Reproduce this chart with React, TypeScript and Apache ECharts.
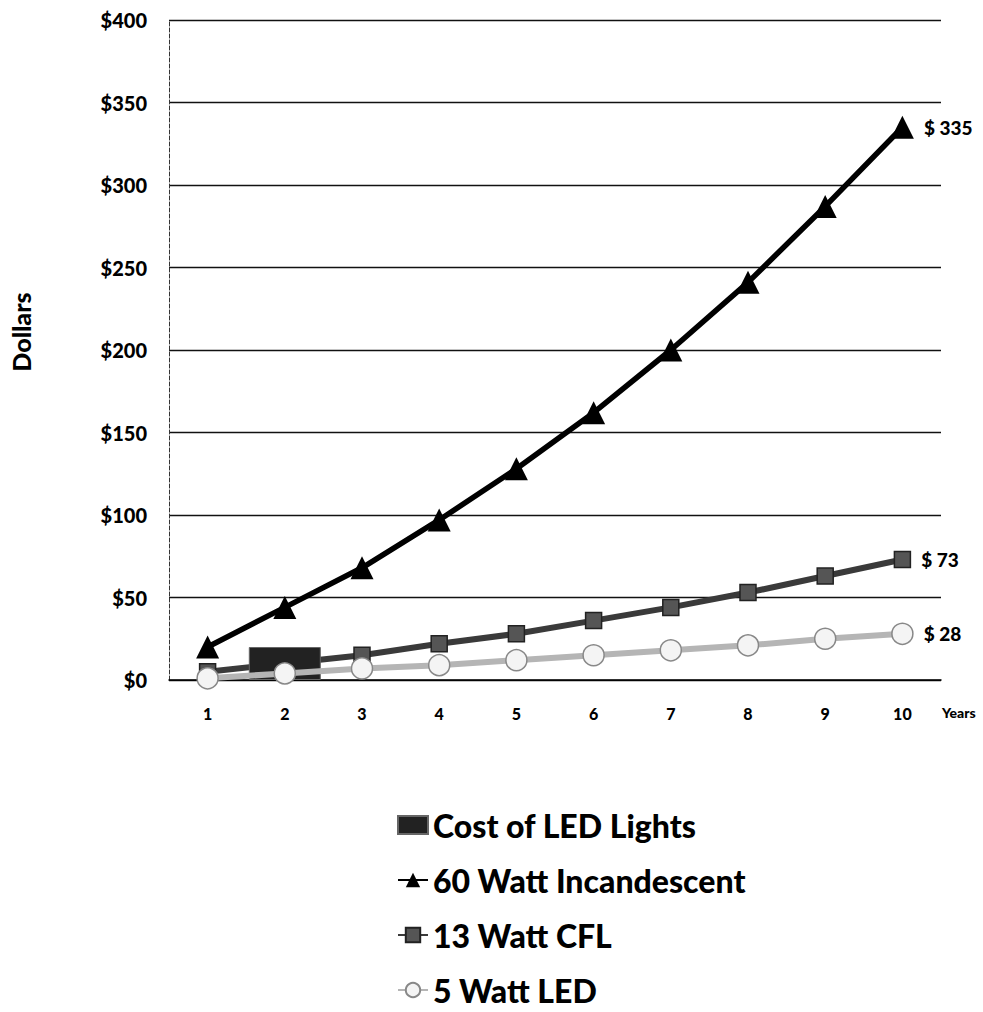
import React, { useEffect, useRef } from "react";
import * as echarts from "echarts";

const years = ["1", "2", "3", "4", "5", "6", "7", "8", "9", "10"];
const ledCost = [null, 20, null, null, null, null, null, null, null, null];
const incandescent = [20, 44, 68, 97, 128, 162, 200, 241, 287, 335];
const cfl = [5, 10, 15, 22, 28, 36, 44, 53, 63, 73];
const led5w = [1, 4, 7, 9, 12, 15, 18, 21, 25, 28];
const yTicks = { min: 0, max: 400, interval: 50 };

const FONT = "Lato, 'Open Sans', sans-serif";
const W = 900;

function endLabel(dataLen: number) {
  return {
    show: true,
    position: "right",
    distance: 10,
    fontFamily: FONT,
    fontWeight: W,
    fontSize: 19,
    color: "#000",
    formatter: (p: any) => (p.dataIndex === dataLen - 1 ? "$ " + p.value : ""),
  };
}

export default function App() {
  const ref = useRef<HTMLDivElement>(null);
  useEffect(() => {
    document.body.style.margin = "0";
    const chart = echarts.init(ref.current!, undefined, { renderer: "svg" });
    chart.setOption({
      animation: false,
      backgroundColor: "#fff",
      grid: { left: 169, right: 42, top: 20, bottom: 332 },
      xAxis: {
        type: "category",
        data: years,
        boundaryGap: true,
        axisLine: { show: true, lineStyle: { color: "#000", width: 1.5 } },
        axisTick: { show: false },
        axisLabel: {
          margin: 25,
          fontFamily: FONT,
          fontWeight: W,
          fontSize: 16,
          color: "#000",
        },
      },
      yAxis: {
        type: "value",
        min: yTicks.min,
        max: yTicks.max,
        interval: yTicks.interval,
        axisLine: { show: true, lineStyle: { color: "#333", width: 1, type: "dashed" } },
        axisTick: { show: false },
        splitLine: { show: true, lineStyle: { color: "#111", width: 1.3 } },
        axisLabel: {
          margin: 22,
          fontFamily: FONT,
          fontWeight: W,
          fontSize: 20,
          color: "#000",
          formatter: (v: number) => "$" + v,
        },
      },
      legend: {
        orient: "vertical",
        left: 397,
        top: 809,
        height: 300,
        padding: 0,
        itemGap: 23,
        itemWidth: 30,
        itemHeight: 18,
        textStyle: { fontFamily: FONT, fontWeight: W, fontSize: 32, lineHeight: 32, color: "#000" },
        data: [
          { name: "Cost of LED Lights", icon: "rect" },
          { name: "60 Watt Incandescent" },
          { name: "13 Watt CFL" },
          { name: "5 Watt LED" },
        ],
      },
      graphic: [
        {
          type: "text",
          left: 942,
          top: 705,
          style: { text: "Years", fontFamily: FONT, fontWeight: W, fontSize: 14, fill: "#000" },
        },
        {
          type: "text",
          x: 21,
          y: 332,
          rotation: Math.PI / 2,
          style: {
            text: "Dollars",
            fontFamily: FONT,
            fontWeight: W,
            fontSize: 25,
            fill: "#000",
            align: "center",
            verticalAlign: "middle",
          },
        },
      ],
      series: [
        {
          name: "13 Watt CFL",
          type: "line",
          data: cfl,
          z: 3,
          symbol: "rect",
          symbolSize: 16,
          lineStyle: { color: "#3a3a3a", width: 6 },
          itemStyle: { color: "#555", borderColor: "#222", borderWidth: 1.5 },
          label: endLabel(cfl.length),
        },
        {
          name: "Cost of LED Lights",
          type: "bar",
          data: ledCost,
          z: 4,
          barWidth: 72,
          itemStyle: { color: "#222", borderColor: "#666", borderWidth: 1 },
        },
        {
          name: "5 Watt LED",
          type: "line",
          data: led5w,
          z: 5,
          symbol: "circle",
          symbolSize: 21,
          lineStyle: { color: "#b5b5b5", width: 6 },
          itemStyle: { color: "#f4f4f4", borderColor: "#888", borderWidth: 1.5 },
          label: endLabel(led5w.length),
        },
        {
          name: "60 Watt Incandescent",
          type: "line",
          data: incandescent,
          z: 6,
          symbol: "triangle",
          symbolSize: 23,
          lineStyle: { color: "#000", width: 5.5 },
          itemStyle: { color: "#000" },
          label: endLabel(incandescent.length),
        },
      ],
    });
    return () => chart.dispose();
  }, []);
  return <div ref={ref} style={{ width: 983, height: 1012 }} />;
}
